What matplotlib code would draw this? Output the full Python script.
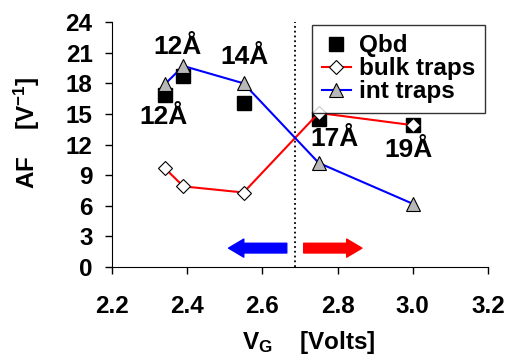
import matplotlib
matplotlib.use("Agg")
import matplotlib.pyplot as plt

plt.rcParams['font.family'] = ['Liberation Sans', 'DejaVu Sans']
plt.rcParams['font.weight'] = 'bold'
plt.rcParams['mathtext.fontset'] = 'custom'
plt.rcParams['mathtext.rm'] = 'Liberation Sans:bold'
plt.rcParams['mathtext.bf'] = 'Liberation Sans:bold'
plt.rcParams['mathtext.it'] = 'Liberation Sans:bold'
plt.rcParams['mathtext.default'] = 'bf'

# gate voltage and acceleration factors
vg = [2.34, 2.39, 2.55, 2.75, 3.0]
qbd = [16.9, 18.7, 16.1, 14.5, 13.9]
bulk_traps = [9.7, 7.9, 7.3, 15.1, 13.9]
int_traps = [17.9, 19.7, 18.0, 10.2, 6.2]

# oxide thickness labels: (text, x, y)
thick_labels = [("12Å", 2.375, 21.6), ("14Å", 2.553, 20.6), ("12Å", 2.336, 14.7),
                ("17Å", 2.793, 12.5), ("19Å", 2.99, 11.5)]
v_split = 2.687

fig = plt.figure(figsize=(5.1, 3.58), dpi=100)
ax = fig.add_axes([0.2196, 0.2542, 0.737, 0.684])

ax.plot(vg, qbd, linestyle='none', marker='s', markersize=9.5,
        color='black', label='Qbd', zorder=3)
ax.plot(vg, bulk_traps, color='red', linewidth=1.5, marker='D', markersize=7,
        markerfacecolor='white', markeredgecolor='black', markeredgewidth=0.8,
        label='bulk traps', zorder=4)
ax.plot(vg, int_traps, color='blue', linewidth=1.5, marker='^', markersize=10,
        markerfacecolor='#b8b8b8', markeredgecolor='black', markeredgewidth=0.8,
        label='int traps', zorder=4)

ax.axvline(v_split, color='black', linestyle=':', linewidth=1.3, zorder=1)

for txt, x, y in thick_labels:
    ax.text(x, y, txt, fontsize=19, fontweight='bold', ha='center', va='center')

# direction arrows
arrow_style = 'simple,head_width=0.65,head_length=0.55,tail_width=0.35'
ax.annotate('', xy=(2.51, 1.85), xytext=(2.665, 1.85),
            arrowprops=dict(arrowstyle=arrow_style, color='blue',
                            shrinkA=0, shrinkB=0, mutation_scale=20))
ax.annotate('', xy=(2.865, 1.85), xytext=(2.71, 1.85),
            arrowprops=dict(arrowstyle=arrow_style, color='red',
                            shrinkA=0, shrinkB=0, mutation_scale=20))

ax.set_xlim(2.2, 3.2)
ax.set_ylim(0, 24)
ax.set_xticks([2.2, 2.4, 2.6, 2.8, 3.0, 3.2])
ax.set_xticklabels(['2.2', '2.4', '2.6', '2.8', '3.0', '3.2'])
ax.set_yticks(range(0, 25, 3))
ax.tick_params(axis='both', direction='out', labelsize=17.5, width=1, length=5)
ax.tick_params(axis='x', pad=15)
ax.tick_params(axis='y', pad=9)
for lbl in ax.get_xticklabels() + ax.get_yticklabels():
    lbl.set_fontweight('bold')
ax.spines['top'].set_visible(False)
ax.spines['right'].set_visible(False)

ax.set_ylabel('AF    [V$^{-1}$]', fontsize=17.5, fontweight='bold')
ax.yaxis.set_label_coords(-0.185, 0.55)
ax.set_xlabel('V$_{G}$    [Volts]', fontsize=17.5, fontweight='bold')
ax.xaxis.set_label_coords(0.524, -0.255)

leg = ax.legend(loc='upper right', bbox_to_anchor=(1.0, 1.0), fontsize=17.5, frameon=True,
                fancybox=False, edgecolor='black', handlelength=1.2, handletextpad=0.35,
                labelspacing=0.0, borderpad=0.4, borderaxespad=0.1)
leg.get_frame().set_linewidth(1.0)

fig.savefig('out.png', dpi=100)
